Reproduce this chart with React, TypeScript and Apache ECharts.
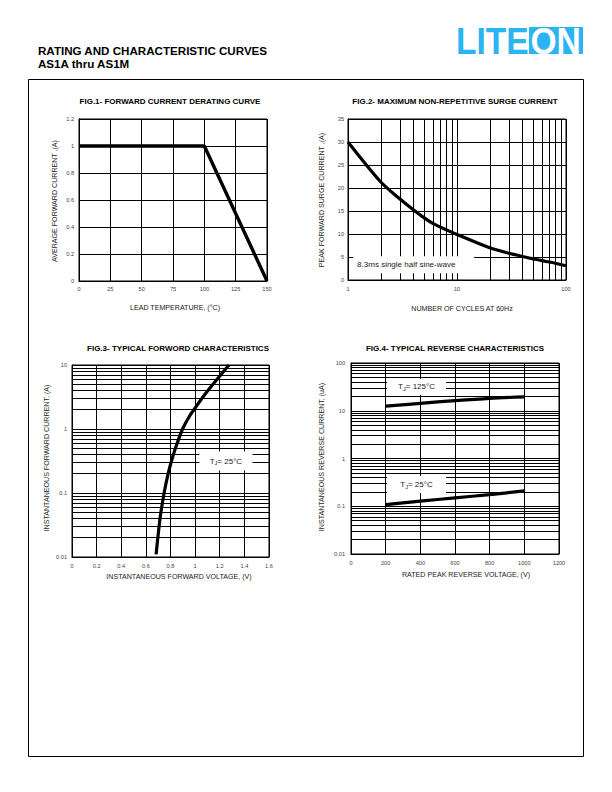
import React, { useEffect, useRef } from "react";
import * as echarts from "echarts";

const FONT = '"Liberation Sans", Arial, Helvetica, sans-serif';

// ---------- Fig.1 forward current derating curve ----------
const fig1XTicks = [0, 25, 50, 75, 100, 125, 150];
const fig1YTicks = [0, 0.2, 0.4, 0.6, 0.8, 1, 1.2];
const fig1Temperature = [0, 100, 150];
const fig1Current = [1, 1, 0];

// ---------- Fig.2 maximum non-repetitive surge current ----------
const fig2XTicks = [1, 10, 100];
const fig2YTicks = [0, 5, 10, 15, 20, 25, 30, 35];
const fig2Cycles = [1, 2, 3, 4, 5, 6, 8, 10, 20, 30, 40, 50, 60, 80, 100];
const fig2Current = [30, 21.3, 17.6, 15.2, 13.5, 12.3, 10.9, 9.9, 7.0, 5.8, 5.1, 4.6, 4.2, 3.65, 3.1];

// ---------- Fig.3 typical forward characteristics ----------
const fig3XTicks = [0, 0.2, 0.4, 0.6, 0.8, 1, 1.2, 1.4, 1.6];
const fig3YTicks = [0.01, 0.1, 1, 10];
const fig3Voltage = [0.683, 0.697, 0.709, 0.722, 0.748, 0.781, 0.808, 0.84, 0.898, 0.955, 0.99, 1.065, 1.145, 1.275];
const fig3Current = [0.011, 0.02, 0.032, 0.05, 0.1, 0.2, 0.316, 0.5, 1, 1.6, 2, 3.2, 5, 10];

// ---------- Fig.4 typical reverse characteristics ----------
const fig4XTicks = [0, 200, 400, 600, 800, 1000, 1200];
const fig4YTicks = [0.01, 0.1, 1, 10, 100];
const fig4Voltage = [200, 400, 600, 800, 1000];
const fig4Current125 = [12.5, 14.3, 16.3, 18.2, 19.5];
const fig4Current25 = [0.108, 0.128, 0.15, 0.175, 0.21];

// minor gridline multipliers for log axes
const minorMultipliers = [2, 3, 4, 5, 6, 7, 8, 9];

const minorsBetween = (ticks: number[]) => {
  const out: number[] = [];
  for (let i = 0; i < ticks.length - 1; i++) {
    for (const m of minorMultipliers) out.push(Number((ticks[i] * m).toPrecision(6)));
  }
  return out;
};

const zip = (a: number[], b: number[]) => a.map((v, i) => [v, b[i]]);

const fmt = (v: number) => String(Number(Number(v).toPrecision(6)));

const labelStyle = { fontSize: 5.6, color: "#444", fontFamily: FONT, margin: 5, formatter: fmt };
const black = { color: "#000", width: 1 };

const valueAxis = (gridIndex: number, ticks: number[], margin = 5) => ({
  type: "value",
  gridIndex,
  min: ticks[0],
  max: ticks[ticks.length - 1],
  interval: ticks[1] - ticks[0],
  axisLine: { show: true, lineStyle: black },
  axisTick: { show: false },
  splitLine: { show: true, lineStyle: black },
  axisLabel: { ...labelStyle, margin },
});

const logAxis = (gridIndex: number, ticks: number[], margin = 5) => ({
  type: "log",
  logBase: 10,
  gridIndex,
  min: ticks[0],
  max: ticks[ticks.length - 1],
  axisLine: { show: true, lineStyle: black },
  axisTick: { show: false },
  splitLine: { show: true, lineStyle: black },
  minorSplitLine: { show: false },
  axisLabel: { ...labelStyle, margin },
});

const gridMarkLine = (key: string, values: number[]) => ({
  silent: true,
  symbol: ["none", "none"],
  label: { show: false },
  emphasis: { disabled: true },
  lineStyle: { color: "#000", width: 1, type: "solid" },
  animation: false,
  data: values.map((v) => ({ [key]: v })),
});

const curve = (x: number, y: number, data: number[][], width = 3.2, smooth: boolean | number = false) => ({
  type: "line",
  xAxisIndex: x,
  yAxisIndex: y,
  data,
  symbol: "none",
  smooth,
  silent: true,
  z: 3,
  lineStyle: { color: "#000", width },
});

const grids = [
  { left: 79, top: 119, width: 188, height: 162 },
  { left: 348, top: 119, width: 218, height: 161 },
  { left: 72, top: 365, width: 197, height: 192 },
  { left: 351, top: 363, width: 208, height: 191 },
].map((g) => ({ ...g, show: true, borderColor: "#000", borderWidth: 1, backgroundColor: "transparent", containLabel: false, outerBoundsMode: "none" }));

const baseOption: any = {
  animation: false,
  backgroundColor: "#fff",
  textStyle: { fontFamily: FONT },
  grid: grids,
  xAxis: [
    valueAxis(0, fig1XTicks, 5),
    logAxis(1, fig2XTicks, 6),
    valueAxis(2, fig3XTicks, 6),
    valueAxis(3, fig4XTicks, 6),
  ],
  yAxis: [
    valueAxis(0, fig1YTicks, 5),
    valueAxis(1, fig2YTicks, 4),
    logAxis(2, fig3YTicks, 5),
    logAxis(3, fig4YTicks, 6),
  ],
  series: [
    curve(0, 0, zip(fig1Temperature, fig1Current), 3.4),
    { ...curve(1, 1, zip(fig2Cycles, fig2Current), 3.2, 0.3), markLine: gridMarkLine("xAxis", minorsBetween(fig2XTicks)) },
    { ...curve(2, 2, zip(fig3Voltage, fig3Current), 3.2, 0.3), markLine: gridMarkLine("yAxis", minorsBetween(fig3YTicks)) },
    { ...curve(3, 3, zip(fig4Voltage, fig4Current125), 3.2, 0.3), markLine: gridMarkLine("yAxis", minorsBetween(fig4YTicks)) },
    curve(3, 3, zip(fig4Voltage, fig4Current25), 3.2, 0.3),
  ],
};

const txt = (text: string, x: number, y: number, font: string, extra: any = {}) => ({
  type: "text",
  x,
  y,
  z: 50,
  rotation: extra.rotation || 0,
  scaleX: extra.scaleX || 1,
  style: {
    text,
    x: 0,
    y: 0,
    font,
    fill: extra.fill || "#000",
    align: extra.align || "center",
    textAlign: extra.align || "center",
    verticalAlign: "middle",
    textVerticalAlign: "middle",
  },
});

const BLUE = "#2ab4f1";
const titleFont = `bold 8px ${FONT}`;
const nameFont = `7.1px ${FONT}`;
const NAME = "#222";

const staticGraphics = [
  { type: "rect", z: 40, shape: { x: 28.5, y: 79.5, width: 555, height: 677 }, style: { fill: "none", stroke: "#000", lineWidth: 1 } },
  txt("RATING AND CHARACTERISTIC CURVES", 38, 50, `bold 11.6px ${FONT}`, { align: "left" }),
  txt("AS1A thru AS1M", 38, 63.5, `bold 11.6px ${FONT}`, { align: "left" }),
  txt("LITE", 456, 41, `bold 37.7px ${FONT}`, { align: "left", fill: BLUE, scaleX: 0.89 }),
  { type: "rect", z: 40, shape: { x: 529, y: 27, width: 54, height: 27 }, style: { fill: BLUE } },
  txt("ON", 530.5, 41, `bold 37.7px ${FONT}`, { align: "left", fill: "#fff", scaleX: 0.89 }),
  txt("FIG.1- FORWARD CURRENT DERATING CURVE", 170, 101, titleFont),
  txt("FIG.2- MAXIMUM NON-REPETITIVE SURGE CURRENT", 455, 101, titleFont),
  txt("FIG.3- TYPICAL FORWORD CHARACTERISTICS", 178, 348, titleFont),
  txt("FIG.4- TYPICAL REVERSE CHARACTERISTICS", 455, 348, titleFont),
  txt("LEAD TEMPERATURE, (°C)", 175, 308, nameFont, { fill: NAME }),
  txt("AVERAGE FORWARD CURRENT ,(A)", 55, 201, nameFont, { rotation: Math.PI / 2, fill: NAME }),
  txt("NUMBER OF CYCLES AT 60Hz", 462, 309, nameFont, { fill: NAME }),
  txt("PEAK FORWARD SURGE CURRENT ,(A)", 322, 200, nameFont, { rotation: Math.PI / 2, fill: NAME }),
  txt("INSTANTANEOUS FORWARD VOLTAGE, (V)", 179, 577, nameFont, { fill: NAME }),
  txt("INSTANTANEOUS FORWARD CURRENT, (A)", 47, 458, nameFont, { rotation: Math.PI / 2, fill: NAME }),
  txt("RATED PEAK REVERSE VOLTAGE, (V)", 466, 575, nameFont, { fill: NAME }),
  txt("INSTANTANEOUS REVERSE CURRENT, (uA)", 322, 457, nameFont, { rotation: Math.PI / 2, fill: NAME }),
];

// annotation boxes, anchored at data coordinates of their grid
const notes = [
  { grid: 1, at: [4, 3.3], w: 121, h: 17, pad: 4, text: "{n|8.3ms single half sine-wave}" },
  { grid: 2, at: [1.25, 0.316], w: 53, h: 19, pad: 0, text: "{n|T}{s|J}{n|= 25°C}" },
  { grid: 3, at: [378, 32], w: 59, h: 16, pad: 0, text: "{n|T}{s|J}{n|= 125°C}" },
  { grid: 3, at: [378, 0.285], w: 59, h: 17, pad: 0, text: "{n|T}{s|J}{n|= 25°C}" },
];

export default function App() {
  const ref = useRef<HTMLDivElement>(null);
  useEffect(() => {
    const chart = echarts.init(ref.current!, null, { renderer: "svg", width: 612, height: 792 });
    chart.setOption(baseOption);
    const noteEls = notes.map((n) => {
      const p = chart.convertToPixel({ gridIndex: n.grid } as any, n.at) as unknown as number[];
      const left = n.pad > 0;
      return {
        type: "group",
        x: p[0],
        y: p[1],
        z: 100,
        children: [
          { type: "rect", z: 100, shape: { x: -n.w / 2, y: -n.h / 2, width: n.w, height: n.h }, style: { fill: "#fff" } },
          {
            type: "text",
            z: 101,
            style: {
              text: n.text,
              x: left ? -n.w / 2 + n.pad : 0,
              y: 0,
              align: left ? "left" : "center",
              textAlign: left ? "left" : "center",
              verticalAlign: "middle",
              textVerticalAlign: "middle",
              rich: {
                n: { fontSize: 8, fontFamily: FONT, fill: "#222", color: "#222", lineHeight: 10, verticalAlign: "middle" },
                s: { fontSize: 5.5, fontFamily: FONT, fill: "#222", color: "#222", lineHeight: 6, verticalAlign: "bottom" },
              },
            },
          },
        ],
      };
    });
    chart.setOption({ graphic: [...staticGraphics, ...noteEls] });
    return () => chart.dispose();
  }, []);
  return (
    <div
      ref={ref}
      style={{ position: "fixed", left: 0, top: 0, width: 612, height: 792, background: "#fff" }}
    />
  );
}
